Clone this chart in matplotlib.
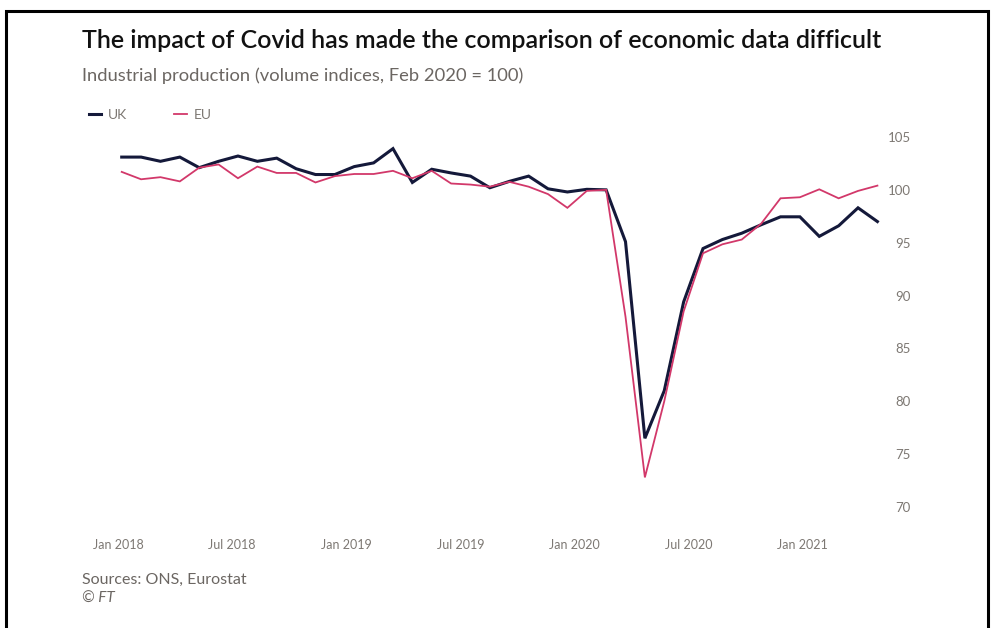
import numpy as np
import matplotlib
matplotlib.use("Agg")
import matplotlib.pyplot as plt
from matplotlib.patches import Rectangle

# monthly industrial production, Jan 2018 - Apr 2021 (Feb 2020 = 100)
uk = [103.1, 103.1, 102.7, 103.1, 102.1, 102.7, 103.2, 102.7, 103.0, 102.0,
      101.45, 101.45, 102.2, 102.55, 103.9, 100.7, 101.95, 101.6, 101.3, 100.2,
      100.8, 101.3, 100.1, 99.8, 100.05, 100.0, 95.1, 76.5, 81.0, 89.4,
      94.45, 95.3, 95.9, 96.7, 97.45, 97.45, 95.6, 96.6, 98.3, 97.0]
eu = [101.7, 101.0, 101.2, 100.8, 102.1, 102.4, 101.1, 102.2, 101.6, 101.6,
      100.7, 101.3, 101.5, 101.5, 101.8, 101.1, 101.8, 100.6, 100.5, 100.3,
      100.76, 100.3, 99.6, 98.3, 99.9, 100.0, 88.0, 72.8, 80.0, 88.5,
      94.0, 94.85, 95.3, 96.8, 99.2, 99.3, 100.05, 99.2, 99.9, 100.4]
tick_labels = ["Jan 2018", "Jul 2018", "Jan 2019", "Jul 2019",
               "Jan 2020", "Jul 2020", "Jan 2021"]
y_ticks = [70, 75, 80, 85, 90, 95, 100, 105]

UK_COL = "#14193a"
EU_COL = "#d2386a"
GREY = "#6b6662"
LIGHT = "#7d7873"

plt.rcParams["font.family"] = ["Lato", "DejaVu Sans"]

fig = plt.figure(figsize=(9.93, 6.28), dpi=100)
W, H = 993, 628
ax = fig.add_axes([110 / W, (H - 507) / H, 780 / W, 370 / H])

x = np.arange(len(uk))
ax.plot(x, uk, color=UK_COL, lw=2.2, solid_joinstyle="miter", label="UK", zorder=3)
ax.plot(x, eu, color=EU_COL, lw=1.3, solid_joinstyle="miter", label="EU", zorder=4)

ax.set_xlim(-0.604, 39.65)
ax.set_ylim(70, 105)

# label spacing along the bottom (every six months)
ax.set_xticks(np.arange(len(tick_labels)) * 5.89 - 0.19)
ax.set_xticklabels(tick_labels)
ax.set_yticks(y_ticks)
ax.set_yticklabels([str(v) for v in y_ticks])
ax.yaxis.tick_right()
ax.tick_params(axis="both", length=0, colors=LIGHT, labelsize=9)
ax.tick_params(axis="y", labelsize=9.5)
ax.tick_params(axis="x", pad=23)
ax.tick_params(axis="y", pad=15)
for t in ax.get_yticklabels():
    t.set_horizontalalignment("right")
for s in ax.spines.values():
    s.set_visible(False)

fig.text(82 / W, 1 - 40 / H, "The impact of Covid has made the comparison of economic data difficult",
         fontsize=18, fontweight="semibold", color="#111111", va="center", ha="left")
fig.text(82 / W, 1 - 76 / H, "Industrial production (volume indices, Feb 2020 = 100)",
         fontsize=13.2, color=GREY, va="center", ha="left")

fig.legend(loc="center left", bbox_to_anchor=(76 / W, 1 - 115 / H), ncol=2,
           frameon=False, handlelength=0.9, handletextpad=0.5, columnspacing=3.4,
           fontsize=10, labelcolor=LIGHT)

fig.text(82 / W, 1 - 580 / H, "Sources: ONS, Eurostat", fontsize=11.5, color=GREY,
         va="center", ha="left")
fig.text(82 / W, 1 - 599 / H, "© FT", fontsize=11, color=GREY, style="italic",
         va="center", ha="left")

# outer frame, open at the bottom
fig.patches.append(Rectangle((6 / W, -0.05), 982 / W, 1.05 - 11 / H,
                             transform=fig.transFigure, fill=False,
                             edgecolor="black", lw=2.2))

fig.savefig("out.png", dpi=100, facecolor="white")
